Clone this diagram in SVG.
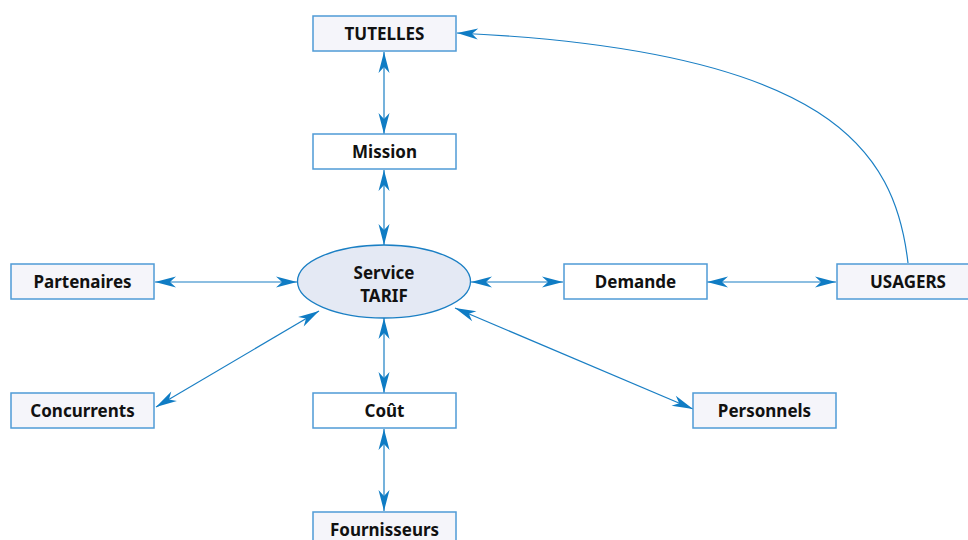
<svg xmlns="http://www.w3.org/2000/svg" width="968" height="540" viewBox="0 0 968 540">
  <style>
    .box { stroke: #4f9bd6; stroke-width: 1.5; }
    .tint { fill: #f5f5fa; }
    .plain { fill: #ffffff; }
    .lbl { font-family: "Noto Sans", "Open Sans", "Liberation Sans", sans-serif; font-weight: bold; font-size: 17px; fill: #111111; text-anchor: middle; }
    .link { fill: none; stroke: #1a7fc4; stroke-width: 1.2; }
  </style>
  <defs>
    <marker id="head" markerUnits="userSpaceOnUse" markerWidth="24" markerHeight="14" viewBox="-22 -7 24 14" refX="0" refY="0" orient="auto-start-reverse">
      <path d="M0,0 L-21,-5.5 L-15,0 L-21,5.5 Z" fill="#0f7cc4"/>
    </marker>
  </defs>

  <rect width="968" height="540" fill="#ffffff"/>

  <g id="connectors">
    <line class="link" x1="384" y1="52" x2="384" y2="134" marker-start="url(#head)" marker-end="url(#head)"/>
    <line class="link" x1="384" y1="170" x2="384" y2="245" marker-start="url(#head)" marker-end="url(#head)"/>
    <line class="link" x1="384" y1="318" x2="384" y2="393" marker-start="url(#head)" marker-end="url(#head)"/>
    <line class="link" x1="384" y1="429" x2="384" y2="511" marker-start="url(#head)" marker-end="url(#head)"/>
    <line class="link" x1="155" y1="282" x2="297" y2="282" marker-start="url(#head)" marker-end="url(#head)"/>
    <line class="link" x1="471" y1="282" x2="563" y2="282" marker-start="url(#head)" marker-end="url(#head)"/>
    <line class="link" x1="707" y1="282" x2="836" y2="282" marker-start="url(#head)" marker-end="url(#head)"/>
    <line class="link" x1="156" y1="407" x2="319" y2="311" marker-start="url(#head)" marker-end="url(#head)"/>
    <line class="link" x1="455" y1="308" x2="693" y2="409" marker-start="url(#head)" marker-end="url(#head)"/>
    <path class="link" d="M908,263 C895,150 830,50 457,33" marker-end="url(#head)"/>
  </g>

  <g id="tutelles">
    <rect class="box tint" x="313" y="16" width="143" height="35"/>
    <text class="lbl" x="384.5" y="40">TUTELLES</text>
  </g>
  <g id="mission">
    <rect class="box plain" x="313" y="134" width="143" height="35"/>
    <text class="lbl" x="384.5" y="158">Mission</text>
  </g>
  <g id="service-tarif">
    <ellipse cx="384" cy="281.5" rx="86.5" ry="36.5" fill="#e4e9f4" stroke="#1a7fc4" stroke-width="1.3"/>
    <text class="lbl" x="384" y="278.5">Service</text>
    <text class="lbl" x="384" y="301.5">TARIF</text>
  </g>
  <g id="partenaires">
    <rect class="box tint" x="11" y="264" width="143" height="35"/>
    <text class="lbl" x="82.5" y="288">Partenaires</text>
  </g>
  <g id="concurrents">
    <rect class="box tint" x="11" y="393" width="143" height="35"/>
    <text class="lbl" x="82.5" y="417">Concurrents</text>
  </g>
  <g id="cout">
    <rect class="box plain" x="313" y="393" width="143" height="35"/>
    <text class="lbl" x="384.5" y="417">Coût</text>
  </g>
  <g id="fournisseurs">
    <rect class="box tint" x="313" y="512" width="143" height="35"/>
    <text class="lbl" x="384.5" y="536">Fournisseurs</text>
  </g>
  <g id="demande">
    <rect class="box plain" x="564" y="264" width="143" height="35"/>
    <text class="lbl" x="635.5" y="288">Demande</text>
  </g>
  <g id="usagers">
    <rect class="box tint" x="837" y="264" width="143" height="35"/>
    <text class="lbl" x="908" y="288">USAGERS</text>
  </g>
  <g id="personnels">
    <rect class="box tint" x="693" y="393" width="143" height="35"/>
    <text class="lbl" x="764.5" y="417">Personnels</text>
  </g>
</svg>
